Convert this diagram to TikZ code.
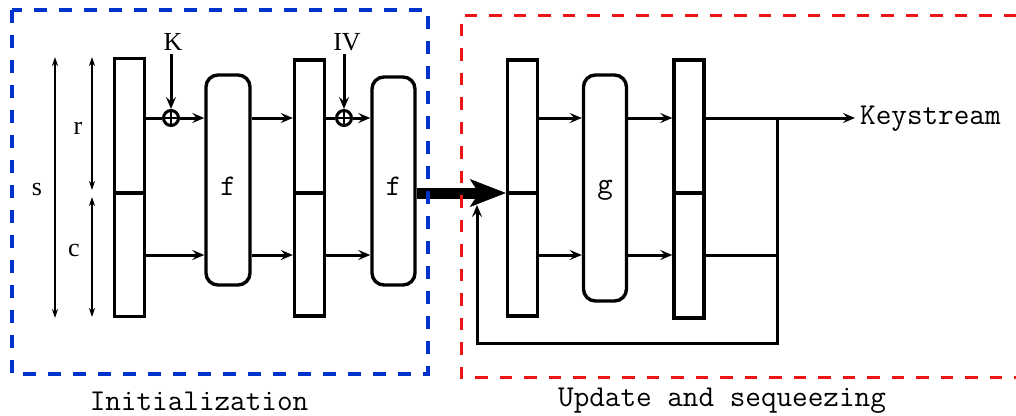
\documentclass[tikz,border=0pt]{standalone}
\usepackage{fontspec}
\setmainfont{Liberation Serif}
\usetikzlibrary{arrows.meta}
\definecolor{initblue}{RGB}{0,51,204}
\definecolor{updred}{RGB}{236,20,20}

\begin{document}
\begin{tikzpicture}[x=1pt,y=-1pt,
  statebox/.style={draw, line width=3.4pt, minimum width=30pt, inner sep=0pt},
  roundbox/.style={draw, line width=3.4pt, rounded corners=12pt, inner sep=0pt},
  boxlabel/.style={font=\fontsize{30}{32}\selectfont\ttfamily, inner sep=0pt},
  xorc/.style={draw, circle, line width=3pt, minimum size=15pt, inner sep=0pt},
  conn/.style={line width=3pt, -{Stealth[length=12pt,width=10pt,inset=4.5pt]}},
  plain/.style={line width=3pt},
  divider/.style={line width=3.4pt},
  dimarrow/.style={line width=1.7pt,
    {Stealth[length=9pt,width=6pt,inset=3pt]}-{Stealth[length=9pt,width=6pt,inset=3pt]}},
  serif/.style={font=\fontsize{26}{30}\selectfont},
  mono/.style={font=\fontsize{30.3}{32}\selectfont\ttfamily},
  bigarrow/.style={line width=11pt,
    -{Stealth[length=36pt,width=28pt,inset=9pt,line width=0.5pt]}},
  frameline/.style={line width=4pt, dash pattern=on 13pt off 12pt}
]
\useasboundingbox (0,0) rectangle (1016,415);

% row levels of the rate and capacity data paths
\coordinate (up) at (0,118);
\coordinate (lo) at (0,255);
\coordinate (div) at (0,193);

% state registers
\node[statebox, minimum height=258pt] (s1) at (129.5,187.5) {};
\node[statebox, minimum height=256pt] (s2) at (309.5,188) {};
\node[statebox, minimum height=256pt] (s3) at (522.5,188) {};
\node[statebox, minimum height=258pt] (s4) at (689,189) {};
\draw[divider, line width=4.5pt] (s1.west |- div) -- (s1.east |- div);
\draw[divider] (s2.west |- div) -- (s2.east |- div);
\draw[divider] (s3.west |- div) -- (s3.east |- div);
\draw[divider] (s4.west |- div) -- (s4.east |- div);

% permutations
\node[roundbox, minimum width=44pt, minimum height=210pt,
  label={[boxlabel, yshift=-6pt]center:f}] (f1) at (228,180) {};
\node[roundbox, minimum width=43pt, minimum height=208pt,
  label={[boxlabel, yshift=-5pt]center:f}] (f2) at (393.5,181) {};
\node[roundbox, minimum width=43pt, minimum height=226pt,
  label={[boxlabel, yshift=-2pt]center:g}] (g) at (605,188) {};

% key and IV absorption
\node[serif, anchor=base] (K) at (173,50) {K};
\node[serif, anchor=base] (IV) at (347,50) {IV};
\node[xorc] (x1) at (171,118) {};
\node[xorc] (x2) at (344,118) {};
\draw[line width=2.4pt] (x1.north) -- (x1.south) (x1.west) -- (x1.east);
\draw[line width=2.4pt] (x2.north) -- (x2.south) (x2.west) -- (x2.east);

% size annotations
\coordinate (sTop) at (55,57);
\coordinate (sBot) at (55,318);
\coordinate (rTop) at (92,57);
\coordinate (rBot) at (92,190);
\coordinate (cTop) at (92,197);
\coordinate (cBot) at (92,317);
\draw[dimarrow] (sTop) -- (sBot);
\draw[dimarrow] (rTop) -- (rBot);
\draw[dimarrow] (cTop) -- (cBot);
\node[serif] (lbS) at (37,189) {s};
\node[serif] (lbR) at (78,128) {r};
\node[serif] (lbC) at (74,250) {c};

% initialization data flow
\draw[plain] (s1.east |- up) -- (x1.west);
\draw[conn] (x1.east) -- (f1.west |- up);
\draw[conn] (K.south -| x1) -- (x1.north);
\draw[conn] (s1.east |- lo) -- (f1.west |- lo);
\draw[conn] (f1.east |- up) -- (s2.west |- up);
\draw[conn] (f1.east |- lo) -- (s2.west |- lo);
\draw[plain] (s2.east |- up) -- (x2.west);
\draw[conn] (x2.east) -- (f2.west |- up);
\draw[conn] (IV.south -| x2) -- (x2.north);
\draw[conn] (s2.east |- lo) -- (f2.west |- lo);

% hand-over of the state
\draw[bigarrow] (f2.east |- div) -- (s3.west |- div);

% update and squeezing data flow
\draw[conn] (s3.east |- up) -- (g.west |- up);
\draw[conn] (s3.east |- lo) -- (g.west |- lo);
\draw[conn] (g.east |- up) -- (s4.west |- up);
\draw[conn] (g.east |- lo) -- (s4.west |- lo);

\node[mono, anchor=base west, inner xsep=5pt] (ks) at (855,124) {Keystream};
\draw[conn] (s4.east |- up) -- (ks.west |- up);

% feedback loop
\coordinate (tap) at (777,118);
\coordinate (loopR) at (777,343);
\coordinate (loopL) at (477,343);
\coordinate (fb) at (477,205);
\draw[plain] (s4.east |- lo) -- (tap |- lo);
\draw[conn, line join=miter] (tap) -- (loopR) -- (loopL) -- (fb);

% phase frames
\draw[frameline, initblue] (12,10) rectangle (428,374);
\draw[frameline, updred, line width=3pt, dash pattern=on 12.5pt off 12pt]
  (1016,15) -- (461,15) -- (461,377) -- (1016,377);

\node[mono, anchor=base] (initLbl) at (199,410) {Initialization};
\node[mono, anchor=base] (updLbl) at (722,406) {Update and sequeezing};
\end{tikzpicture}
\end{document}
